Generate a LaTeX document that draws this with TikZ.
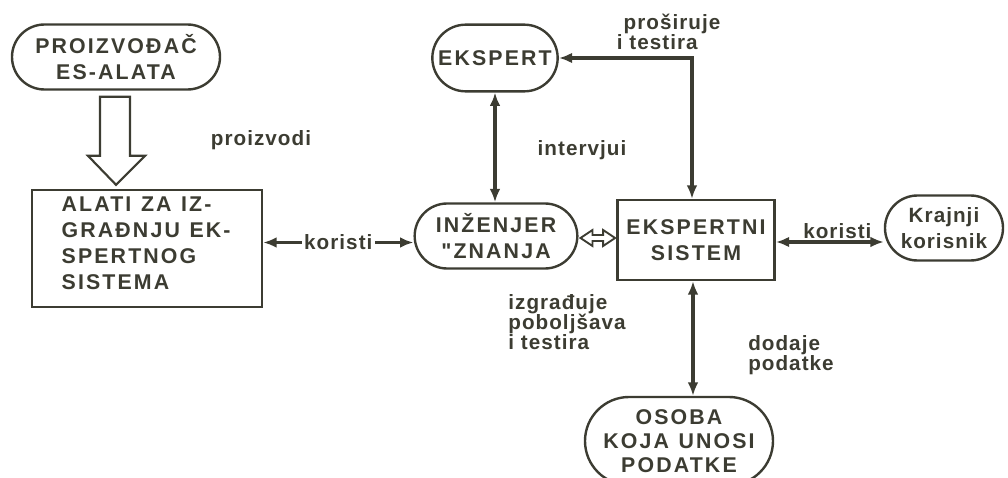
\documentclass[tikz,border=0pt]{standalone}
\usepackage{fontspec}
\setmainfont{Liberation Sans}
\newfontfamily\boxfont[LetterSpace=10]{Liberation Sans}
\newfontfamily\labfont[LetterSpace=5]{Liberation Sans}
\usetikzlibrary{shapes.misc,arrows.meta,calc}
\definecolor{ink}{HTML}{3C3C32}
\newcommand\wgap{\hspace{0.45em}}
\tikzset{
  stadium/.style={rounded rectangle, draw=ink, line width=1.8pt, text=ink,
    font=\boxfont\bfseries\fontsize{16}{19}\selectfont, align=center, inner sep=0pt},
  boxnode/.style={rectangle, draw=ink, line width=1.8pt, text=ink,
    font=\boxfont\bfseries\fontsize{16}{19.5}\selectfont, inner sep=0pt},
  lab/.style={text=ink, font=\labfont\bfseries\fontsize{15.5}{17}\selectfont, align=left, inner sep=1pt},
  conn/.style={draw=ink, line width=2.3pt, {Latex[length=10pt,width=8pt]}-{Latex[length=10pt,width=8pt]}},
  hollow/.style={draw=ink, line width=1.6pt, fill=white, line join=miter}
}
\begin{document}
\begin{tikzpicture}[x=0.75pt,y=-0.75pt]
\useasboundingbox (0,0) rectangle (1008,478);
\clip (0,0) rectangle (1008,478);
% nodes
\node[stadium, minimum width=156pt, minimum height=48.75pt] (PRO) at (116,57) {PROIZVOĐAČ\\ES-ALATA};
\node[boxnode, minimum width=172.5pt, minimum height=87.75pt, text width=128pt, align=left] (AL) at (147,248.5)
  {ALATI\wgap ZA\wgap IZ-\\GRAĐNJU\wgap EK-\\SPERTNOG\\SISTEMA\\[-11pt]\mbox{}};
\node[stadium, minimum width=122pt, minimum height=48.75pt] (ING) at (496,236) {INŽENJER\\"ZNANJA};
\node[stadium, minimum width=94pt, minimum height=50pt] (EKS) at (495,58) {EKSPERT};
\node[boxnode, minimum width=118pt, minimum height=60pt, align=center] (ES) at (696,240) {EKSPERTNI\\SISTEM};
\node[stadium, minimum width=88.5pt, minimum height=48.75pt, font=\labfont\bfseries\fontsize{15.5}{19}\selectfont] (KK) at (944,228) {Krajnji\\korisnik};
\node[stadium, minimum width=141pt, minimum height=66pt, font=\boxfont\bfseries\fontsize{16}{18}\selectfont] (OS) at (679,441) {OSOBA\\KOJA\wgap UNOSI\\PODATKE};
% labels
\node[lab] (lproiz) at (261,140) {proizvodi};
\node[lab] (linter) at (582,150) {intervjui};
\node[lab] (lprosir) at (672,32) {proširuje\\[-2pt]\hspace*{-5pt}i testira};
\node[lab] (lizgr) at (567,322) {izgrađuje\\[-2pt]poboljšava\\[-2pt]i testira};
\node[lab] (ldod) at (791,355) {dodaje\\[-2pt]podatke};
% hollow arrow PRO -> AL
\coordinate (a) at (PRO.south);
\coordinate (t) at (PRO.south |- AL.north);
\draw[hollow] ($(a)+(-16,6)$) -- ($(a)+(14,6)$) -- ($(t)+(14,-33)$) -- ($(t)+(29,-33)$)
  -- ($(t)+(0,-4)$) -- ($(t)+(-28,-33)$) -- ($(t)+(-16,-33)$) -- cycle;
% hollow double arrow ING <-> ES
\coordinate (dl) at ($(ING.east)+(2,2)$);
\coordinate (dr) at ($(ES.west |- dl)+(-1,0)$);
\draw[hollow, line width=1.4pt] (dl) -- ($(dl)+(12,-8)$) -- ($(dl)+(12,-3)$) -- ($(dr)+(-12,-3)$) -- ($(dr)+(-12,-8)$)
  -- (dr) -- ($(dr)+(-12,8)$) -- ($(dr)+(-12,3)$) -- ($(dl)+(12,3)$) -- ($(dl)+(12,8)$) -- cycle;
% connectors
\draw[conn] (EKS.south) -- (EKS.south |- ING.north);
\draw[conn] ($(ES.north)+(-4,0)$) |- (EKS.east);
\coordinate (kl) at ($(AL.east)+(0,-6)$);
\draw[conn] (kl) -- (kl -| ING.west) node[lab, midway, fill=white, inner xsep=2pt] (lkor1) {koristi};
\coordinate (kr) at ($(ES.east)+(0,2)$);
\draw[conn] (kr) -- (kr -| KK.west) node[lab, pos=0.57, above=0pt] (lkor2) {koristi};
\draw[conn] ($(ES.south)+(-3,0)$) -- ($(ES.south |- OS.north)+(-3,0)$);
\end{tikzpicture}
\end{document}
